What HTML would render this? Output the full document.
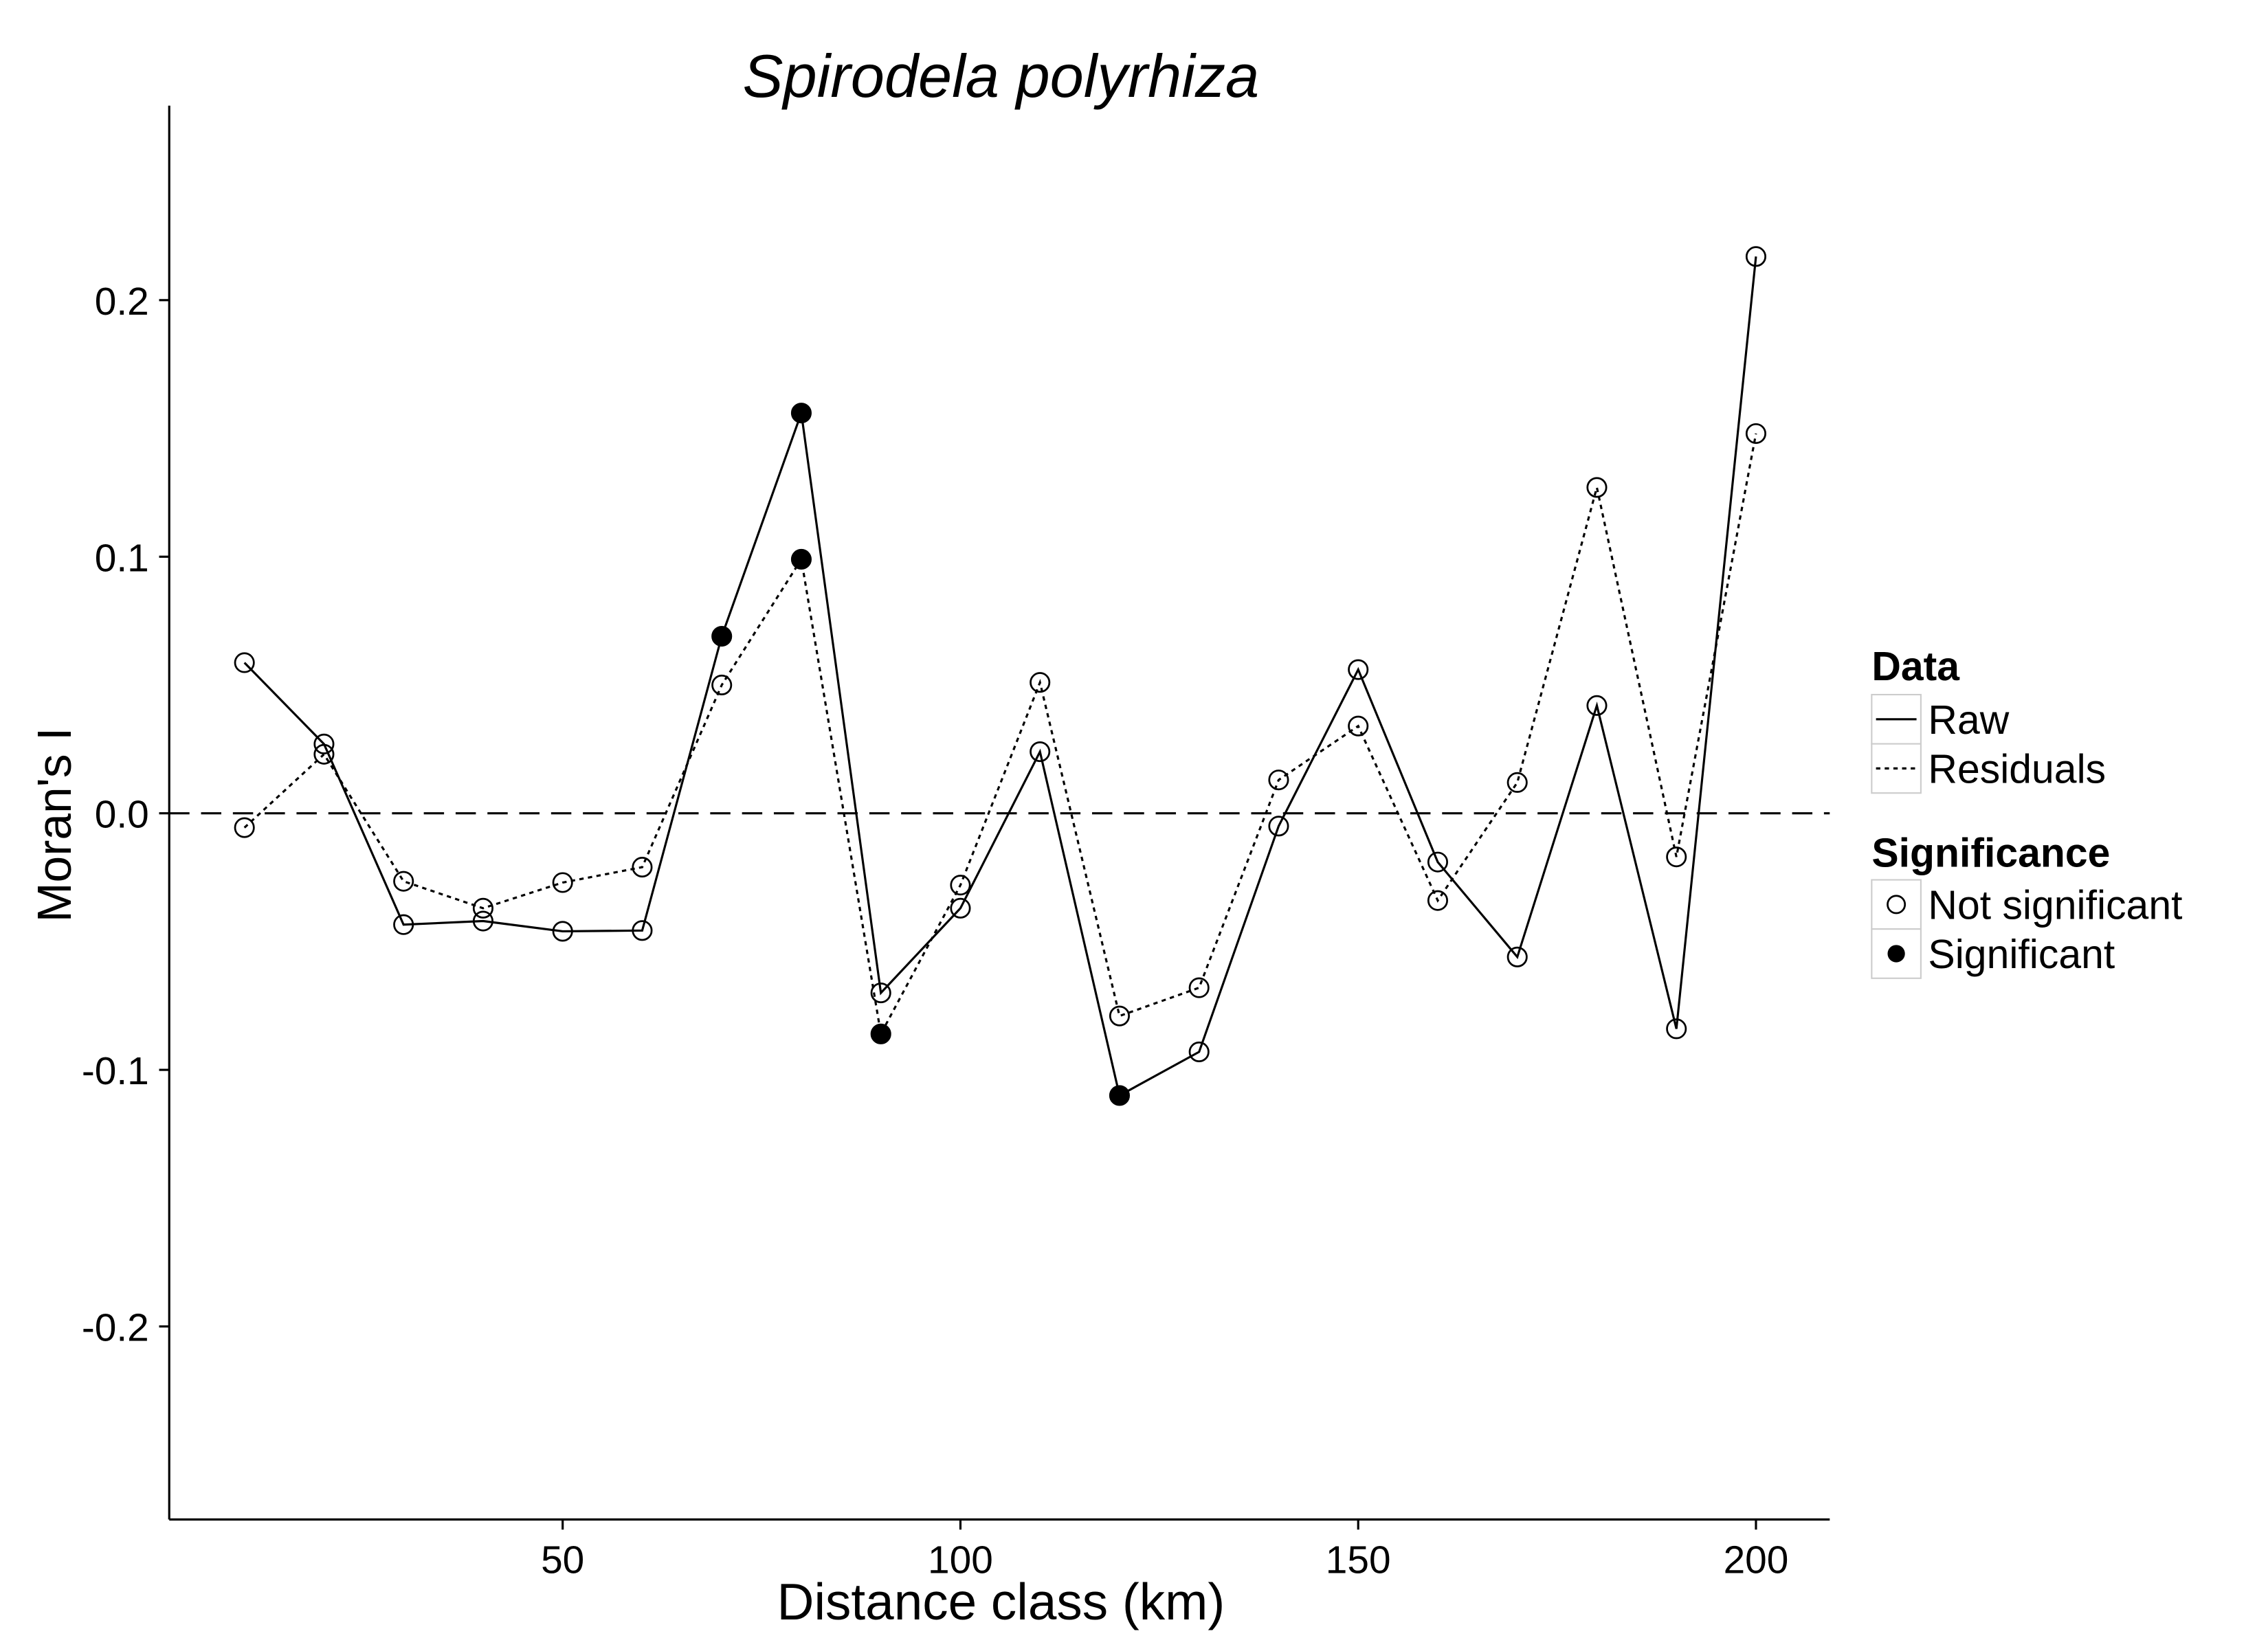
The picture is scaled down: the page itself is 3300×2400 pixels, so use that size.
<!DOCTYPE html>
<html><head><meta charset="utf-8"><style>
html,body{margin:0;padding:0;background:#fff;overflow:hidden;width:3300px;height:2400px;}
svg{display:block;font-family:"Liberation Sans",sans-serif;}
</style></head><body>
<svg id="chart" width="3300" height="2400" viewBox="0 0 1568 1139.5" preserveAspectRatio="none" xmlns="http://www.w3.org/2000/svg">
<rect width="1568" height="1139.5" fill="#fff"/>
<text x="692" y="67" font-size="42" font-style="italic" text-anchor="middle">Spirodela polyrhiza</text>
<line x1="117" y1="73" x2="117" y2="1050" stroke="#000" stroke-width="1.5"/>
<line x1="117" y1="1050" x2="1265" y2="1050" stroke="#000" stroke-width="1.5"/>
<g id="yticks"></g><g id="xticks"></g>
<line id="zeroline" stroke="#000" stroke-width="1.5" stroke-dasharray="14,8"/>
<g id="series"></g>
<text x="692" y="1119" font-size="35.5" text-anchor="middle">Distance class (km)</text>
<text transform="translate(49,570) rotate(-90)" font-size="33" text-anchor="middle">Moran's I</text>
<g font-size="28">
<text x="1294" y="470" font-weight="bold">Data</text>
<rect x="1294" y="480" width="34" height="34" fill="#fff" stroke="#ccc"/>
<line x1="1297" y1="497" x2="1325" y2="497" stroke="#000" stroke-width="1.5"/>
<text x="1333" y="507">Raw</text>
<rect x="1294" y="514" width="34" height="34" fill="#fff" stroke="#ccc"/>
<line x1="1297" y1="531" x2="1325" y2="531" stroke="#000" stroke-width="1.5" stroke-dasharray="3,3"/>
<text x="1333" y="541">Residuals</text>
<text x="1294" y="599" font-weight="bold">Significance</text>
<rect x="1294" y="608" width="34" height="34" fill="#fff" stroke="#ccc"/>
<circle cx="1311" cy="625" r="6" fill="#fff" stroke="#000" stroke-width="1.3"/>
<text x="1333" y="635">Not significant</text>
<rect x="1294" y="642" width="34" height="34" fill="#fff" stroke="#ccc"/>
<circle cx="1311" cy="659" r="6" fill="#000"/>
<text x="1333" y="669">Significant</text>
</g>
</svg>
<script>
const distances=[10,20,30,40,50,60,70,80,90,100,110,120,130,140,150,160,170,180,190,200];
const rawValues=[0.0587,0.027,-0.0434,-0.042,-0.046,-0.0457,0.069,0.156,-0.070,-0.037,0.024,-0.110,-0.093,-0.005,0.056,-0.019,-0.056,0.042,-0.084,0.217];
const rawSignificant=[0,0,0,0,0,0,1,1,0,0,0,1,0,0,0,0,0,0,0,0];
const residValues=[-0.0056,0.023,-0.0265,-0.037,-0.027,-0.021,0.050,0.099,-0.086,-0.028,0.051,-0.079,-0.068,0.013,0.034,-0.034,0.012,0.127,-0.017,0.148];
const residSignificant=[0,0,0,0,0,0,0,1,1,0,0,0,0,0,0,0,0,0,0,0];
const yTicks=[0.2,0.1,0.0,-0.1,-0.2];
const yTickLabels=["0.2","0.1","0.0","-0.1","-0.2"];
const xTicks=[50,100,150,200];
const NS="http://www.w3.org/2000/svg";
function xs(v){return 389+(v-50)*5.5;}
function ys(v){return 562-v*1773;}
function mk(t,a,p){const e=document.createElementNS(NS,t);for(const k in a)e.setAttribute(k,a[k]);if(p)p.appendChild(e);return e;}
const yt=document.getElementById('yticks'),xt=document.getElementById('xticks'),sg=document.getElementById('series');
yTicks.forEach((v,i)=>{
 const l=mk('line',{x1:110,x2:117,y1:ys(v),y2:ys(v),stroke:'#000','stroke-width':1.5},yt);
 
 
 const t=mk('text',{x:103,y:ys(v)+10,'font-size':27,'text-anchor':'end'},yt);t.textContent=yTickLabels[i];
 
 
});
xTicks.forEach(v=>{
 const l=mk('line',{x1:xs(v),x2:xs(v),y1:1050,y2:1057,stroke:'#000','stroke-width':1.5},xt);
 
 
 const t=mk('text',{x:xs(v),y:1087,'font-size':27,'text-anchor':'middle'},xt);t.textContent=String(v);
 
 
});
const z=document.getElementById('zeroline');
z.setAttribute('x1',117);z.setAttribute('x2',1265);z.setAttribute('y1',ys(0));z.setAttribute('y2',ys(0));
function series(vals,sig,dash,name){
 const pts=distances.map((d,i)=>xs(d)+','+ys(vals[i])).join(' ');
 const pl=mk('polyline',{points:pts,fill:'none',stroke:'#000','stroke-width':1.5},sg);
 if(dash)pl.setAttribute('stroke-dasharray',dash);
 
 
 distances.forEach((d,i)=>{
  const c=mk('circle',{cx:xs(d),cy:ys(vals[i]),r:6.5,fill:sig[i]?'#000':'none',stroke:'#000','stroke-width':1.3},sg);
  
  
 });
}
series(residValues,residSignificant,'3,3','residuals');
series(rawValues,rawSignificant,null,'raw');
</script>
</body></html>
